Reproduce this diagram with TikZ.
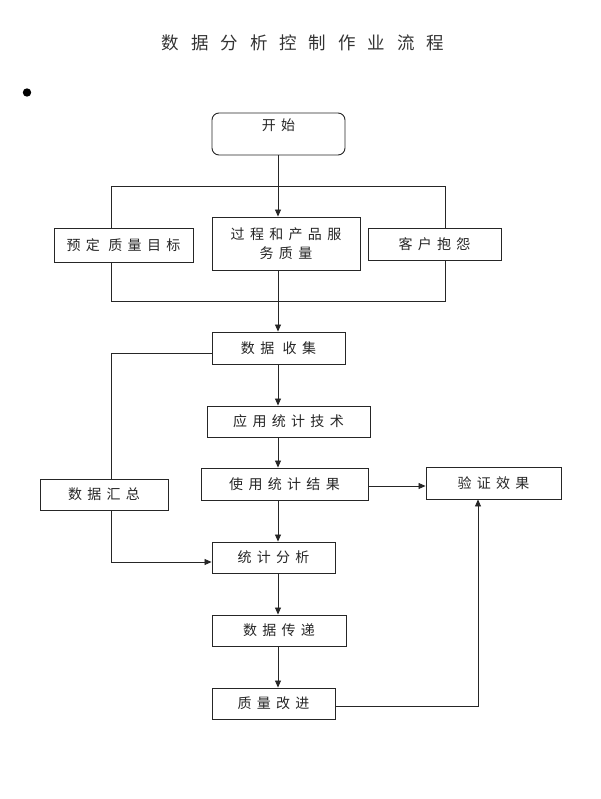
\documentclass[tikz,border=0pt]{standalone}
\usepackage{fontspec}
\newfontfamily\boxfont{Noto Sans CJK SC}[LetterSpace=38]
\newfontfamily\titlefont{Noto Sans CJK SC}[LetterSpace=68]
\usetikzlibrary{arrows.meta,calc}
\tikzset{
  box/.style={draw=black!85, line width=0.9pt, fill=white, rectangle, inner sep=2pt, text=black!85,
    font=\boxfont\fontsize{14}{18.5}\selectfont, align=center},
  conn/.style={draw=black!85, line width=0.8pt},
  arr/.style={conn, -{Triangle[length=7pt,width=6pt]}}
}
\begin{document}
\begin{tikzpicture}[x=1pt,y=-1pt]
\useasboundingbox (0,0) rectangle (600,799);
\node[font=\titlefont\fontsize{17.5}{20}\selectfont, text=black!80] (title) at (303,43) {数据分析控制作业流程};
\fill (27,92.5) circle (4.2pt);
\coordinate (ax) at (278,0);
\coordinate (vx) at (478,0);
\coordinate (lx) at (111,0);
% bracket frame
\draw[conn] (111,186) rectangle (445,301);
% nodes
\node[box, rounded corners=7pt, minimum width=133pt, minimum height=42pt, text height=14pt, text depth=20pt, inner ysep=4pt] (start) at (278.5,134) {开始};
\node[box, minimum width=139pt, minimum height=34pt] (goal) at (123.5,245) {预定 质量目标};
\node[box, minimum width=148pt, minimum height=53pt] (proc) at (286,243.5) {过程和产品服\\务质量};
\node[box, minimum width=133pt, minimum height=32pt] (comp) at (434.5,244) {客户抱怨};
\node[box, minimum width=133pt, minimum height=32pt] (collect) at (278.5,348) {数据 收集};
\node[box, minimum width=163pt, minimum height=31pt] (apply) at (288.5,421.5) {应用统计技术};
\node[box, minimum width=167pt, minimum height=32pt] (use) at (284.5,484) {使用统计结果};
\node[box, minimum width=135pt, minimum height=32pt] (verify) at (493.5,483) {验证效果};
\node[box, minimum width=128pt, minimum height=31pt] (summary) at (104,494.5) {数据汇总};
\node[box, minimum width=123pt, minimum height=31pt] (analysis) at (273.5,557.5) {统计分析};
\node[box, minimum width=134pt, minimum height=31pt] (transfer) at (279,630.5) {数据传递};
\node[box, minimum width=123pt, minimum height=31pt] (improve) at (273.5,703.5) {质量改进};
% main connectors
\draw[arr] (start.south -| ax) -- (proc.north -| ax);
\draw[arr] (proc.south -| ax) -- (collect.north -| ax);
\draw[arr] (collect.south -| ax) -- (apply.north -| ax);
\draw[arr] (apply.south -| ax) -- (use.north -| ax);
\draw[arr] (use.south -| ax) -- (analysis.north -| ax);
\draw[arr] (analysis.south -| ax) -- (transfer.north -| ax);
\draw[arr] (transfer.south -| ax) -- (improve.north -| ax);
% side connectors
\coordinate (cw) at ($(collect.west)+(0,5)$);
\coordinate (aw) at ($(analysis.west)+(0,4.5)$);
\coordinate (ue) at ($(use.east)+(0,2)$);
\coordinate (ie) at ($(improve.east)+(0,2.5)$);
\draw[conn] (cw) -| (summary.north -| lx);
\draw[arr] (summary.south -| lx) |- (aw);
\draw[arr] (ue) -- (ue -| verify.west);
\draw[arr] (ie) -| (verify.south -| vx);
\end{tikzpicture}
\end{document}
